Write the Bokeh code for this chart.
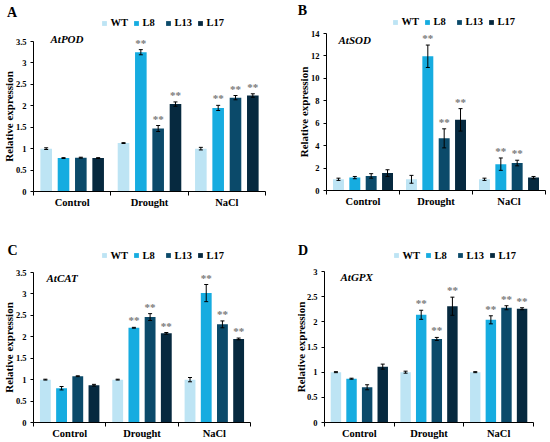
import math
import numpy as np
from bokeh.plotting import figure
from bokeh.models import (ColumnDataSource, Range1d, FixedTicker, CustomJSTickFormatter,
                          Whisker, TeeHead, Legend, LegendItem, Label)
from bokeh.layouts import row, column
from bokeh.embed import file_html
from bokeh.resources import INLINE
from bokeh.core.properties import value

# ---------------- data ----------------
groups = ["Control", "Drought", "NaCl"]
lines = ["WT", "L8", "L13", "L17"]
colors = ["#BDE4F4", "#16ACE0", "#0B4A6A", "#06293F"]

# AtPOD (rows: WT, L8, L13, L17; columns: Control, Drought, NaCl)
pod_mean = [[1.00, 1.13, 1.00], [0.78, 3.25, 1.95], [0.79, 1.47, 2.19], [0.78, 2.04, 2.24]]
pod_err = [[0.02, 0.01, 0.03], [0.01, 0.06, 0.06], [0.01, 0.07, 0.05], [0.01, 0.05, 0.04]]
pod_sig = [[0, 0, 0], [0, 1, 1], [0, 1, 1], [0, 1, 1]]
pod_ticks = [0, 0.5, 1, 1.5, 2, 2.5, 3, 3.5]

# AtSOD
sod_mean = [[1.00, 1.00, 1.00], [1.15, 11.97, 2.35], [1.30, 4.65, 2.45], [1.55, 6.30, 1.15]]
sod_err = [[0.10, 0.35, 0.10], [0.10, 1.00, 0.55], [0.20, 0.85, 0.25], [0.30, 1.00, 0.10]]
sod_sig = [[0, 0, 0], [0, 1, 1], [0, 1, 1], [0, 1, 0]]
sod_ticks = [0, 2, 4, 6, 8, 10, 12, 14]

# AtCAT
cat_mean = [[1.00, 1.00, 1.00], [0.80, 2.21, 3.02], [1.08, 2.46, 2.29], [0.87, 2.08, 1.95]]
cat_err = [[0.01, 0.01, 0.05], [0.04, 0.01, 0.20], [0.01, 0.08, 0.08], [0.02, 0.02, 0.02]]
cat_sig = [[0, 0, 0], [0, 1, 1], [0, 1, 1], [0, 1, 1]]
cat_ticks = [0, 0.5, 1, 1.5, 2, 2.5, 3, 3.5]

# AtGPX
gpx_mean = [[1.00, 1.00, 1.00], [0.87, 2.14, 2.04], [0.70, 1.66, 2.28], [1.11, 2.31, 2.26]]
gpx_err = [[0.01, 0.02, 0.01], [0.01, 0.09, 0.08], [0.05, 0.03, 0.04], [0.05, 0.18, 0.02]]
gpx_sig = [[0, 0, 0], [0, 1, 1], [0, 1, 1], [0, 1, 1]]
gpx_ticks = [0, 0.5, 1, 1.5, 2, 2.5, 3]

y_title = "Relative expression"

# ---------------- style / layout ----------------
SERIF = "Liberation Serif"
offsets = [-0.336, -0.112, 0.112, 0.336]
BAR_W = 0.15
NG = len(groups)


def make_panel(letter, gene, means, errs, sigs, yticks, box, xpx, ypx,
               letter_xy, gene_xy, leg_xy, ytitle_x):
    ox, oy, W, H = box
    x0px, x3px = xpx
    y0px, ytpx = ypx
    ymax = yticks[-1]
    kx = (x3px - x0px) / NG
    ky = (y0px - ytpx) / ymax
    xr = Range1d(-(x0px - ox) / kx, NG + (ox + W - x3px) / kx)
    yr = Range1d(-(oy + H - y0px) / ky, ymax + (ytpx - oy) / ky)

    p = figure(width=W, height=H, x_range=xr, y_range=yr, title=None,
               output_backend="svg", toolbar_location=None,
               min_border=0, min_border_left=0, min_border_right=0,
               min_border_top=0, min_border_bottom=0)
    p.outline_line_color = None
    p.grid.visible = False

    # x axis
    xa = p.xaxis[0]
    xa.fixed_location = 0
    xa.bounds = (0, NG)
    xa.ticker = FixedTicker(ticks=[i + 0.5 for i in range(NG)],
                            minor_ticks=list(range(NG + 1)))
    xa.formatter = CustomJSTickFormatter(args=dict(g=groups),
                                         code="return g[Math.floor(tick)]")
    xa.major_tick_line_color = None
    xa.major_tick_out = 0
    xa.major_tick_in = 0
    xa.minor_tick_out = 4
    xa.minor_tick_in = 0
    xa.minor_tick_line_color = "black"
    xa.axis_line_color = "black"
    xa.major_label_text_font = SERIF
    xa.major_label_text_font_style = "bold"
    xa.major_label_text_font_size = "10.5px"
    xa.major_label_text_color = "black"
    xa.major_label_standoff = 1

    # y axis
    ya = p.yaxis[0]
    ya.fixed_location = 0
    ya.bounds = (0, ymax)
    ya.ticker = FixedTicker(ticks=yticks)
    ya.formatter = CustomJSTickFormatter(code="return String(Math.round(tick*10)/10)")
    ya.major_tick_out = 3
    ya.major_tick_in = 0
    ya.minor_tick_line_color = None
    ya.axis_line_color = "black"
    ya.major_tick_line_color = "black"
    ya.major_label_text_font = SERIF
    ya.major_label_text_font_style = "bold"
    ya.major_label_text_font_size = "8.5px"
    ya.major_label_text_color = "black"
    ya.major_label_standoff = 4

    items = []
    for j, name in enumerate(lines):
        xs = [i + 0.5 + offsets[j] for i in range(NG)]
        up = [m + e for m, e in zip(means[j], errs[j])]
        lo = [m - e for m, e in zip(means[j], errs[j])]
        stars = ["**" if s else "" for s in sigs[j]]
        src = ColumnDataSource(dict(x=xs, top=means[j], upper=up, lower=lo, star=stars))
        p.vbar(x="x", top="top", width=BAR_W, source=src,
               fill_color=colors[j], line_color=None)
        w = Whisker(source=src, base="x", upper="upper", lower="lower",
                    dimension="height", line_color="black", line_width=1,
                    upper_head=TeeHead(size=4, line_color="black", line_width=1),
                    lower_head=TeeHead(size=4, line_color="black", line_width=1),
                    level="annotation")
        p.add_layout(w)
        p.text(x="x", y="upper", text="star", source=src,
               text_font=value(SERIF), text_font_style="bold",
               text_font_size="11px", text_color="#7A7A7A",
               text_align="center", text_baseline="bottom", y_offset=-1)
        # legend swatch: square marker renderer without visible points
        sw = p.scatter(x=np.array([np.nan]), y=np.array([np.nan]), marker="square",
                       size=5, fill_color=colors[j], line_color=None)
        items.append(LegendItem(label=name, renderers=[sw]))

    leg = Legend(items=items, orientation="horizontal",
                 location=(leg_xy[0] - ox - 3.6, oy + H - (leg_xy[1] + 6)),
                 padding=0, spacing=0, margin=0,
                 glyph_width=12, glyph_height=12, label_height=12,
                 label_standoff=0,
                 label_text_font=SERIF, label_text_font_style="bold",
                 label_text_font_size="10.5px", label_text_color="black",
                 border_line_color=None, background_fill_alpha=0)
    p.add_layout(leg)

    p.add_layout(Label(x=ytitle_x - ox, y=ymax / 2, x_units="screen", y_units="data",
                       text=y_title, angle=math.pi / 2,
                       text_font=SERIF, text_font_style="bold",
                       text_font_size="11px", text_color="black",
                       text_align="center", text_baseline="middle"))
    p.add_layout(Label(x=letter_xy[0] - ox, y=oy + H - letter_xy[1],
                       x_units="screen", y_units="screen",
                       text=letter, text_font=SERIF, text_font_style="bold",
                       text_font_size="14px", text_color="black",
                       text_align="center", text_baseline="middle"))
    p.add_layout(Label(x=gene_xy[0] - ox, y=oy + H - gene_xy[1],
                       x_units="screen", y_units="screen",
                       text=gene, text_font=SERIF, text_font_style="bold italic",
                       text_font_size="11px", text_color="black",
                       text_align="left", text_baseline="middle"))
    return p


pA = make_panel("A", "AtPOD", pod_mean, pod_err, pod_sig, pod_ticks,
                (0, 0, 275, 221), (33, 265), (191, 41),
                (11.5, 11.5), (50, 38), (102, 22.7), 8.5)
pB = make_panel("B", "AtSOD", sod_mean, sod_err, sod_sig, sod_ticks,
                (275, 0, 274, 221), (326, 545), (190, 33),
                (302, 9.5), (338, 39), (393, 21.5), 303)
pC = make_panel("C", "AtCAT", cat_mean, cat_err, cat_sig, cat_ticks,
                (0, 221, 275, 220), (33, 250), (422, 272),
                (12, 250), (46, 277), (102, 255), 8.5)
pD = make_panel("D", "AtGPX", gpx_mean, gpx_err, gpx_sig, gpx_ticks,
                (275, 221, 274, 220), (324, 533), (422, 271),
                (302.5, 249.5), (340, 276.5), (394, 255), 300)

layout = column(row(pA, pB), row(pC, pD))
open("out.html", "w").write(file_html(layout, INLINE))
